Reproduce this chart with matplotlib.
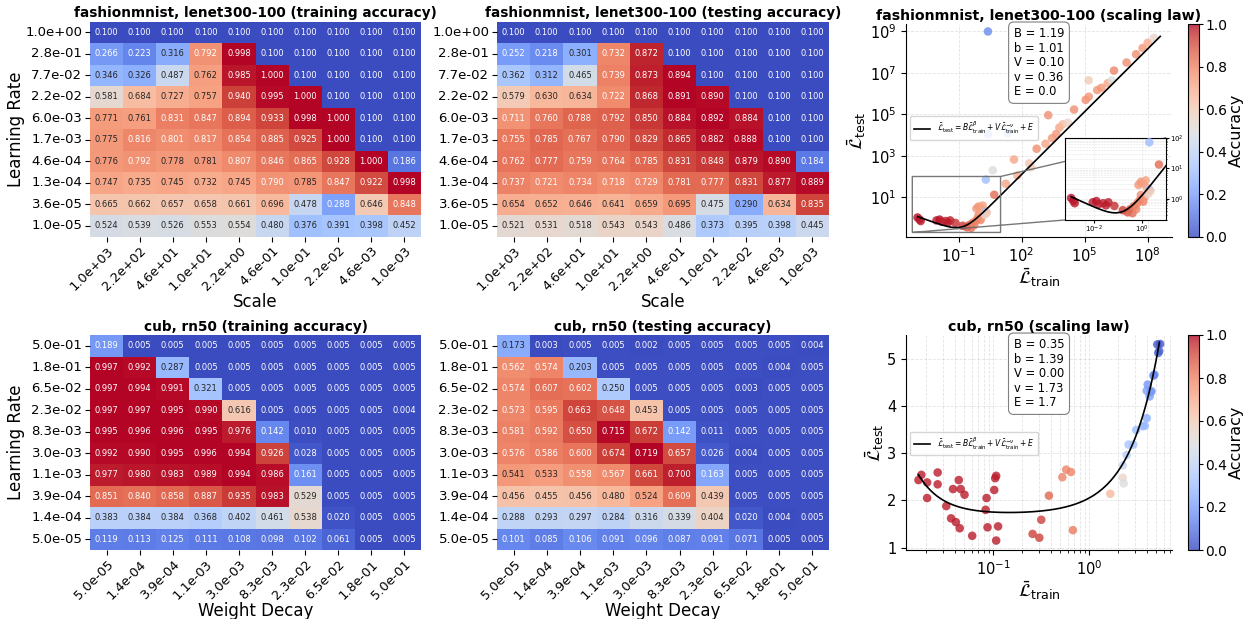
import numpy as np
import matplotlib
matplotlib.use("Agg")
import matplotlib.pyplot as plt
import seaborn as sns

W, H = 1245, 619

# ---------------- heatmap data ----------------
fm_lr = ["1.0e+00", "2.8e-01", "7.7e-02", "2.2e-02", "6.0e-03",
         "1.7e-03", "4.6e-04", "1.3e-04", "3.6e-05", "1.0e-05"]
fm_scale = ["1.0e+03", "2.2e+02", "4.6e+01", "1.0e+01", "2.2e+00",
            "4.6e-01", "1.0e-01", "2.2e-02", "4.6e-03", "1.0e-03"]
fm_train = [
    [0.100, 0.100, 0.100, 0.100, 0.100, 0.100, 0.100, 0.100, 0.100, 0.100],
    [0.266, 0.223, 0.316, 0.792, 0.998, 0.100, 0.100, 0.100, 0.100, 0.100],
    [0.346, 0.326, 0.487, 0.762, 0.985, 1.000, 0.100, 0.100, 0.100, 0.100],
    [0.581, 0.684, 0.727, 0.757, 0.940, 0.995, 1.000, 0.100, 0.100, 0.100],
    [0.771, 0.761, 0.831, 0.847, 0.894, 0.933, 0.998, 1.000, 0.100, 0.100],
    [0.775, 0.816, 0.801, 0.817, 0.854, 0.885, 0.925, 1.000, 0.100, 0.100],
    [0.776, 0.792, 0.778, 0.781, 0.807, 0.846, 0.865, 0.928, 1.000, 0.186],
    [0.747, 0.735, 0.745, 0.732, 0.745, 0.790, 0.785, 0.847, 0.922, 0.998],
    [0.665, 0.662, 0.657, 0.658, 0.661, 0.696, 0.478, 0.288, 0.646, 0.848],
    [0.524, 0.539, 0.526, 0.553, 0.554, 0.480, 0.376, 0.391, 0.398, 0.452],
]
fm_test = [
    [0.100, 0.100, 0.100, 0.100, 0.100, 0.100, 0.100, 0.100, 0.100, 0.100],
    [0.252, 0.218, 0.301, 0.732, 0.872, 0.100, 0.100, 0.100, 0.100, 0.100],
    [0.362, 0.312, 0.465, 0.739, 0.873, 0.894, 0.100, 0.100, 0.100, 0.100],
    [0.579, 0.630, 0.634, 0.722, 0.868, 0.891, 0.890, 0.100, 0.100, 0.100],
    [0.711, 0.760, 0.788, 0.792, 0.850, 0.884, 0.892, 0.884, 0.100, 0.100],
    [0.755, 0.785, 0.767, 0.790, 0.829, 0.865, 0.882, 0.888, 0.100, 0.100],
    [0.762, 0.777, 0.759, 0.764, 0.785, 0.831, 0.848, 0.879, 0.890, 0.184],
    [0.737, 0.721, 0.734, 0.718, 0.729, 0.781, 0.777, 0.831, 0.877, 0.889],
    [0.654, 0.652, 0.646, 0.641, 0.659, 0.695, 0.475, 0.290, 0.634, 0.835],
    [0.521, 0.531, 0.518, 0.543, 0.543, 0.486, 0.373, 0.395, 0.398, 0.445],
]

cub_lr = ["5.0e-01", "1.8e-01", "6.5e-02", "2.3e-02", "8.3e-03",
          "3.0e-03", "1.1e-03", "3.9e-04", "1.4e-04", "5.0e-05"]
cub_wd = ["5.0e-05", "1.4e-04", "3.9e-04", "1.1e-03", "3.0e-03",
          "8.3e-03", "2.3e-02", "6.5e-02", "1.8e-01", "5.0e-01"]
cub_train = [
    [0.189, 0.005, 0.005, 0.005, 0.005, 0.005, 0.005, 0.005, 0.005, 0.005],
    [0.997, 0.992, 0.287, 0.005, 0.005, 0.005, 0.005, 0.005, 0.005, 0.005],
    [0.997, 0.994, 0.991, 0.321, 0.005, 0.005, 0.005, 0.005, 0.005, 0.005],
    [0.997, 0.997, 0.995, 0.990, 0.616, 0.005, 0.005, 0.005, 0.005, 0.004],
    [0.995, 0.996, 0.996, 0.995, 0.976, 0.142, 0.010, 0.005, 0.005, 0.005],
    [0.992, 0.990, 0.995, 0.996, 0.994, 0.926, 0.028, 0.005, 0.005, 0.005],
    [0.977, 0.980, 0.983, 0.989, 0.994, 0.986, 0.161, 0.005, 0.005, 0.005],
    [0.851, 0.840, 0.858, 0.887, 0.935, 0.983, 0.529, 0.005, 0.005, 0.005],
    [0.383, 0.384, 0.384, 0.368, 0.402, 0.461, 0.538, 0.020, 0.005, 0.005],
    [0.119, 0.113, 0.125, 0.111, 0.108, 0.098, 0.102, 0.061, 0.005, 0.005],
]
cub_test = [
    [0.173, 0.003, 0.005, 0.005, 0.002, 0.005, 0.005, 0.005, 0.005, 0.004],
    [0.562, 0.574, 0.203, 0.005, 0.005, 0.005, 0.005, 0.005, 0.004, 0.005],
    [0.574, 0.607, 0.602, 0.250, 0.005, 0.005, 0.005, 0.003, 0.005, 0.005],
    [0.573, 0.595, 0.663, 0.648, 0.453, 0.005, 0.005, 0.005, 0.005, 0.005],
    [0.581, 0.592, 0.650, 0.715, 0.672, 0.142, 0.011, 0.005, 0.005, 0.005],
    [0.576, 0.586, 0.600, 0.674, 0.719, 0.657, 0.026, 0.004, 0.005, 0.005],
    [0.541, 0.533, 0.558, 0.567, 0.661, 0.700, 0.163, 0.005, 0.005, 0.005],
    [0.456, 0.455, 0.456, 0.480, 0.524, 0.609, 0.439, 0.005, 0.005, 0.005],
    [0.288, 0.293, 0.297, 0.284, 0.316, 0.339, 0.404, 0.020, 0.004, 0.005],
    [0.101, 0.085, 0.106, 0.091, 0.096, 0.087, 0.091, 0.071, 0.005, 0.005],
]

# ---------------- scatter data (log10 of losses for fashionmnist) ----------------
fm_log_train = [-2.95, -2.85, -2.8, -2.05, -1.9, -1.8, -1.62, -1.5, -1.4, -1.15,
                -0.8, -0.6, -0.5, -0.4, -0.35, -0.25, -0.2, -0.1, -0.05, 0.05,
                0.1, -0.15, -0.05, 0.05, 0.15, 0.2, 0.3, 0.25, 0.35, 0.3,
                0.63, 0.4, 1.35, 0.4, 2.7, 3.8, 0.7, 1.25, 1.64, 1.8,
                2.36, 2.45, 2.72, 3.14, 3.27, 3.45, 3.65, 3.8, 3.96, 4.2,
                4.5, 5.05, 5.2, 5.19, 5.6, 5.8, 6.1, 6.29, 6.4, 7.0,
                7.45, 7.76, 8.0, 8.3]
fm_log_test = [0.02, -0.08, -0.15, -0.12, -0.08, -0.18, -0.15, -0.22, -0.12, -0.24,
               -0.38, -0.45, -0.35, -0.48, -0.25, -0.35, -0.15, -0.05, 0.12, -0.1,
               0.05, 0.45, 0.55, 0.5, 0.6, 0.35, 0.3, 0.15, 0.25, 1.85,
               2.3, 4.05, 4.1, 9.0, 6.1, 6.1, 1.12, 1.65, 2.82, 2.05,
               2.63, 2.45, 3.34, 3.58, 4.96, 3.85, 4.05, 4.36, 4.52, 4.6,
               5.23, 5.7, 5.85, 6.64, 6.17, 6.28, 6.5, 6.64, 7.11, 7.5,
               7.9, 8.2, 8.45, 8.69]
fm_acc = [0.99, 0.99, 0.98, 0.98, 0.99, 0.98, 0.97, 0.98, 0.98, 0.96,
          0.94, 0.90, 0.88, 0.85, 0.84, 0.80, 0.80, 0.79, 0.78, 0.80,
          0.76, 0.75, 0.76, 0.74, 0.73, 0.72, 0.30, 0.55, 0.60, 0.30,
          0.50, 0.30, 0.30, 0.15, 0.32, 0.32, 0.85, 0.72, 0.72, 0.70,
          0.62, 0.60, 0.78, 0.72, 0.78, 0.75, 0.76, 0.72, 0.66, 0.55,
          0.78, 0.78, 0.76, 0.60, 0.76, 0.75, 0.72, 0.50, 0.80, 0.78,
          0.78, 0.75, 0.70, 0.55]
fm_fit = {"B": 1.19, "b": 1.01, "V": 0.10, "v": 0.36, "E": 0.0}

# cub: log10 of train loss, raw test loss
cub_log_train = [-1.78, -1.75, -1.69, -1.69, -1.58, -1.58, -1.49, -1.44, -1.39, -1.42,
                 -1.36, -1.34, -1.35, -1.30, -1.22, -1.07, -1.08, -1.06, -0.99, -0.98,
                 -0.97, -0.97, -0.95, -0.59, -0.52, -0.50, -0.42, -0.28, -0.24, -0.19,
                 -0.17, 0.22, 0.35, 0.36, 0.35, 0.39, 0.41, 0.46, 0.49, 0.56,
                 0.58, 0.60, 0.63, 0.64, 0.60, 0.61, 0.65, 0.67, 0.68, 0.72,
                 0.74, 0.71, 0.73]
cub_test_loss = [2.43, 2.54, 2.38, 2.05, 2.59, 2.34, 1.88, 1.62, 1.54, 2.24,
                 2.43, 2.24, 1.41, 2.12, 1.25, 2.05, 1.80, 1.43, 2.22, 2.47,
                 2.52, 1.15, 1.45, 1.29, 1.21, 1.59, 2.10, 2.49, 2.65, 2.60,
                 1.37, 2.14, 2.48, 2.36, 2.74, 2.96, 3.18, 3.18, 3.49, 3.57,
                 3.58, 3.74, 4.20, 4.29, 4.32, 4.45, 4.31, 4.64, 4.66, 5.12,
                 5.31, 5.30, 5.16]
cub_acc = [0.98, 0.98, 0.98, 0.98, 0.98, 0.98, 0.98, 0.98, 0.98, 0.98,
           0.98, 0.98, 0.98, 0.98, 0.98, 0.98, 0.98, 0.98, 0.98, 0.98,
           0.98, 0.98, 0.98, 0.93, 0.93, 0.93, 0.86, 0.80, 0.80, 0.80,
           0.82, 0.66, 0.55, 0.50, 0.42, 0.36, 0.33, 0.32, 0.30, 0.28,
           0.28, 0.25, 0.20, 0.20, 0.20, 0.18, 0.18, 0.14, 0.14, 0.06,
           0.03, 0.03, 0.05]
cub_fit = {"B": 0.35, "b": 1.39, "V": 0.0007, "v": 1.73, "E": 1.7}


def rect(x0, y0, x1, y1):
    return [x0 / W, 1 - y1 / H, (x1 - x0) / W, (y1 - y0) / H]


def law(x, p):
    return p["B"] * x ** p["b"] + p["V"] * x ** (-p["v"]) + p["E"]


fig = plt.figure(figsize=(W / 100, H / 100), dpi=100)


def heat(box, data, ylabels, xlabels, title, ylab, xlab):
    ax = fig.add_axes(rect(*box))
    # colour range follows each table's own min/max (seaborn default)
    sns.heatmap(np.array(data), ax=ax, cmap="coolwarm",
                annot=True, fmt=".3f", annot_kws={"size": 6}, cbar=False,
                xticklabels=xlabels, yticklabels=ylabels)
    ax.set_xticklabels(xlabels, rotation=45, ha="right", rotation_mode="anchor",
                       fontsize=9.3)
    ax.set_yticklabels(ylabels, rotation=0, fontsize=9.5)
    ax.tick_params(pad=2)
    ax.set_title(title, fontsize=9.8, fontweight="bold", pad=3)
    if ylab:
        ax.set_ylabel(ylab, fontsize=12)
        ax.yaxis.set_label_coords(-0.197, 0.5)
    if xlab:
        ax.set_xlabel(xlab, fontsize=12, labelpad=0)
    return ax


heat((90, 21.6, 421, 236.6), fm_train, fm_lr, fm_scale,
     "fashionmnist, lenet300-100 (training accuracy)", "Learning Rate", "Scale")
heat((497, 21.6, 829, 236.6), fm_test, fm_lr, fm_scale,
     "fashionmnist, lenet300-100 (testing accuracy)", None, "Scale")
heat((90, 335, 421, 550), cub_train, cub_lr, cub_wd,
     "cub, rn50 (training accuracy)", "Learning Rate", "Weight Decay")
heat((497, 335, 829, 550), cub_test, cub_lr, cub_wd,
     "cub, rn50 (testing accuracy)", None, "Weight Decay")

law_label = (r"$\bar{\mathcal{L}}_{\mathrm{test}} = B\bar{\mathcal{L}}_{\mathrm{train}}^{\beta}"
             r" + V\bar{\mathcal{L}}_{\mathrm{train}}^{-\nu} + E$")


def style_scatter(ax):
    for s in ["top", "right"]:
        ax.spines[s].set_visible(False)
    ax.tick_params(labelsize=10.5)
    ax.set_xlabel(r"$\bar{\mathcal{L}}_{\mathrm{train}}$", fontsize=13, labelpad=1)
    ax.set_ylabel(r"$\bar{\mathcal{L}}_{\mathrm{test}}$", fontsize=13, labelpad=1)


def param_box(ax, labels):
    txt = "\n".join(labels)
    ax.text(0.5, 0.985, txt, transform=ax.transAxes, ha="center", va="top",
            fontsize=8.3, linespacing=1.15, multialignment="left",
            bbox=dict(boxstyle="round,pad=0.45", fc="white", ec="gray", lw=0.8))


def add_cbar(sc, box):
    cax = fig.add_axes(rect(*box))
    cb = fig.colorbar(sc, cax=cax)
    cb.set_ticks([0.0, 0.2, 0.4, 0.6, 0.8, 1.0])
    cb.ax.tick_params(labelsize=10, pad=1.5, length=3)
    cb.set_label("Accuracy", fontsize=11.5, labelpad=1)


# ---------------- fashionmnist scaling law ----------------
ax = fig.add_axes(rect(906, 24, 1172, 237))
fx = 10 ** np.array(fm_log_train)
fy = 10 ** np.array(fm_log_test)
sc = ax.scatter(fx, fy, c=fm_acc, cmap="coolwarm", vmin=0, vmax=1, s=38,
                alpha=0.8, edgecolors="none", zorder=3)
xx = np.logspace(-2.95, 8.6, 300)
ax.plot(xx, law(xx, fm_fit), color="black", lw=1.2, label=law_label, zorder=4)
ax.set_xscale("log")
ax.set_yscale("log")
ax.set_xlim(10 ** -3.5, 10 ** 9.16)
ax.set_ylim(10 ** -0.92, 10 ** 9.36)
ax.set_xticks([1e-1, 1e2, 1e5, 1e8])
ax.set_yticks([1e1, 1e3, 1e5, 1e7, 1e9])
ax.xaxis.set_minor_locator(matplotlib.ticker.NullLocator())
ax.yaxis.set_minor_locator(matplotlib.ticker.NullLocator())
ax.grid(True, ls="--", lw=0.6, alpha=0.35)
style_scatter(ax)
ax.set_title("fashionmnist, lenet300-100 (scaling law)", fontsize=10.2,
             fontweight="bold", pad=3)
ax.legend(loc="center left", bbox_to_anchor=(0.0, 0.51), fontsize=5.5,
          handlelength=2.2, borderpad=0.5)
param_box(ax, ["B = 1.19", "b = 1.01", "V = 0.10", "v = 0.36", "E = 0.0"])

axin = ax.inset_axes([0.598, 0.08, 0.38, 0.386])
axin.scatter(fx, fy, c=fm_acc, cmap="coolwarm", vmin=0, vmax=1, s=38,
             alpha=0.8, edgecolors="none", zorder=3)
axin.plot(xx, law(xx, fm_fit), color="black", lw=1.2, zorder=4)
axin.set_xscale("log")
axin.set_yscale("log")
axin.set_xlim(10 ** -3.2, 10 ** 1.0)
axin.set_ylim(10 ** -0.7, 10 ** 2.0)
axin.set_xticks([1e-2, 1e0])
axin.set_yticks([1e0, 1e1, 1e2])
axin.yaxis.tick_right()
axin.tick_params(labelsize=5, length=2, pad=1)
axin.tick_params(which="minor", length=1)
axin.grid(True, which="both", ls="--", lw=0.4, alpha=0.35)
ax.indicate_inset_zoom(axin, edgecolor="dimgray", lw=1.0, alpha=0.9)

add_cbar(sc, (1188, 24, 1199, 237))

# ---------------- cub scaling law ----------------
ax2 = fig.add_axes(rect(906, 335, 1172, 550))
cx = 10 ** np.array(cub_log_train)
sc2 = ax2.scatter(cx, cub_test_loss, c=cub_acc, cmap="coolwarm", vmin=0, vmax=1,
                  s=38, alpha=0.8, edgecolors="none", zorder=3)
xx2 = np.logspace(np.log10(0.0166), np.log10(5.4), 300)
ax2.plot(xx2, law(xx2, cub_fit), color="black", lw=1.2, label=law_label, zorder=4)
ax2.set_xscale("log")
ax2.set_xlim(0.0123, 7.3)
ax2.set_ylim(0.95, 5.5)
ax2.set_yticks([1, 2, 3, 4, 5])
ax2.grid(True, which="both", axis="x", ls="--", lw=0.6, alpha=0.35)
ax2.grid(True, which="major", axis="y", ls="--", lw=0.6, alpha=0.35)
style_scatter(ax2)
ax2.set_title("cub, rn50 (scaling law)", fontsize=10.2, fontweight="bold", pad=3)
ax2.legend(loc="center left", bbox_to_anchor=(0.0, 0.495), fontsize=5.5,
           handlelength=2.2, borderpad=0.5)
param_box(ax2, ["B = 0.35", "b = 1.39", "V = 0.00", "v = 1.73", "E = 1.7"])

add_cbar(sc2, (1188, 335, 1199, 550))

fig.savefig("out.png", dpi=100)
